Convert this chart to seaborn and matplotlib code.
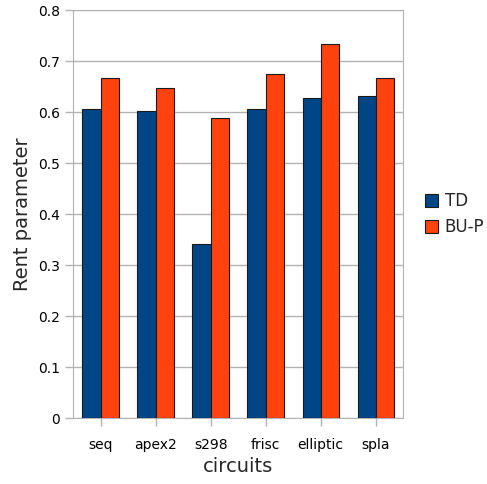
import pandas as pd
import seaborn as sns
from matplotlib import pyplot as plt

circuits = ["seq", "apex2", "s298", "frisc", "elliptic", "spla"]
td = [0.606, 0.602, 0.341, 0.606, 0.627, 0.631]
bup = [0.667, 0.647, 0.588, 0.675, 0.733, 0.667]

df = pd.DataFrame({
    "circuits": circuits * 2,
    "value": td + bup,
    "method": ["TD"] * len(circuits) + ["BU-P"] * len(circuits),
})

sns.set_style("white")
plt.rcParams['font.family'] = ['DejaVu Sans']

fig = plt.figure(figsize=(4.87, 4.84), dpi=100)
ax = fig.add_axes([0.150, 0.136, 0.678, 0.843])

sns.barplot(data=df, x="circuits", y="value", hue="method",
            palette={"TD": "#004586", "BU-P": "#ff420e"}, saturation=1,
            width=0.66, edgecolor="#1a1a1a", linewidth=0.8,
            ax=ax, zorder=3)

ax.set_ylim(0, 0.8)
ax.set_yticks([0, 0.1, 0.2, 0.3, 0.4, 0.5, 0.6, 0.7, 0.8])
ax.set_yticklabels(["0", "0.1", "0.2", "0.3", "0.4", "0.5", "0.6", "0.7", "0.8"])
ax.yaxis.grid(True, color="#b3b3b3", linewidth=1, zorder=0)
ax.set_axisbelow(True)
for s in ax.spines.values():
    s.set_color("#b3b3b3")
ax.tick_params(axis="both", colors="#b3b3b3", labelcolor="black",
               labelsize=10, length=6, width=1, direction="out",
               bottom=True, left=True)
ax.tick_params(axis="x", pad=8)
ax.set_xlabel("circuits", fontsize=14)
ax.set_ylabel("Rent parameter", fontsize=14)

ax.legend(title=None, frameon=False, fontsize=12, loc="center left",
          bbox_to_anchor=(1.02, 0.5), handlelength=0.8, handleheight=0.8,
          handletextpad=0.4)

fig.savefig("out.png", dpi=100)
